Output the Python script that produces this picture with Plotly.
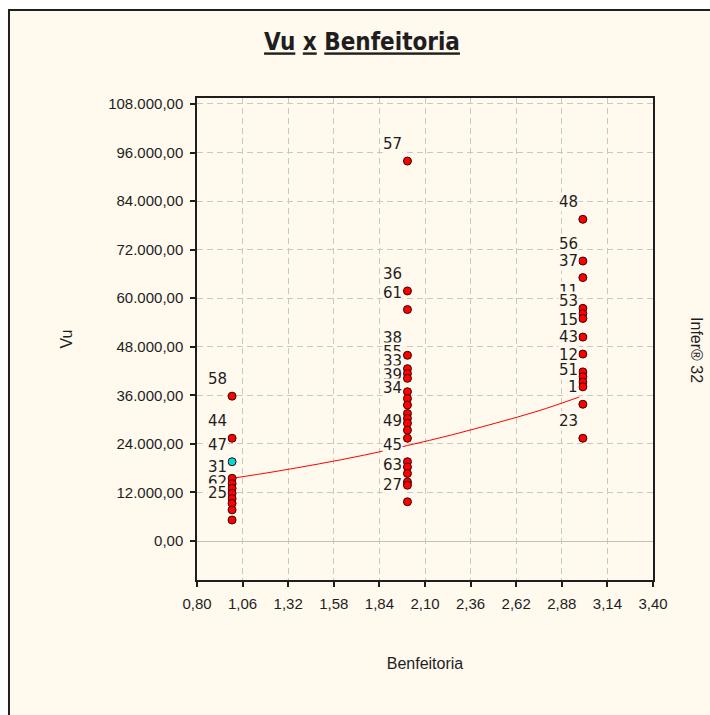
import plotly.graph_objects as go

FUNDO = "#FFF9EE"
TEXTO = "#1e1e1e"

# pontos (Benfeitoria, Vu), rótulo de cada ponto e destaque (1 = ponto ciano)
benfeitoria = [
    1, 1, 1, 1, 1, 1, 1, 1, 1, 1, 1,
    2, 2, 2, 2, 2, 2, 2, 2, 2, 2, 2, 2, 2, 2, 2, 2, 2, 2, 2, 2, 2,
    3, 3, 3, 3, 3, 3, 3, 3, 3, 3, 3, 3, 3, 3,
]
vu = [
    35800, 25400, 19600, 15500, 14200, 13000, 11800, 10500, 9300, 7700, 5200,
    93900, 61800, 57200, 45900, 42600, 41400, 40200, 36900, 35200, 33600, 31500,
    30300, 29100, 27400, 25400, 19600, 18300, 16700, 14600, 13800, 9700,
    79500, 69200, 65100, 57500, 56200, 55000, 50400, 46200, 41800, 40600, 39300,
    38100, 33800, 25400,
]
rotulos = [
    "58", "44", "47", "", "31", "", "", "62", "", "25", "",
    "57", "36", "61", "38", "55", "", "33", "39", "", "34", "",
    "", "", "", "49", "45", "", "", "63", "", "27",
    "48", "56", "37", "11", "", "53", "15", "43", "12", "", "",
    "51", "1", "23",
]
destaque = [
    0, 0, 1, 0, 0, 0, 0, 0, 0, 0, 0,
    0, 0, 0, 0, 0, 0, 0, 0, 0, 0, 0, 0, 0, 0, 0, 0, 0, 0, 0, 0, 0,
    0, 0, 0, 0, 0, 0, 0, 0, 0, 0, 0, 0, 0, 0,
]

# curva de regressão
curva_x = [1.0, 1.25, 1.5, 1.75, 2.0, 2.25, 2.5, 2.75, 2.98]
curva_y = [15500, 17200, 19100, 21200, 23600, 26200, 29100, 32200, 35600]

cores = ["#00DCDC" if d else "#FF0000" for d in destaque]

fig = go.Figure()
fig.add_trace(go.Scatter(
    x=curva_x, y=curva_y, mode="lines",
    line=dict(color="#FF0000", width=1, shape="spline"),
    hoverinfo="skip",
))
fig.add_trace(go.Scatter(
    x=benfeitoria, y=vu, mode="markers", text=rotulos,
    marker=dict(size=8, color=cores, line=dict(color="#3a0000", width=1)),
    cliponaxis=False,
))

# rótulos com fundo opaco, de cima para baixo (o de baixo cobre o de cima)
for bx, v, r in zip(benfeitoria, vu, rotulos):
    if not r:
        continue
    fig.add_annotation(
        x=bx, y=v, text=r, showarrow=False,
        xanchor="right", yanchor="middle", xshift=-4, yshift=17,
        bgcolor=FUNDO, borderpad=0,
        font=dict(family="DejaVu Sans, sans-serif", size=15, color=TEXTO),
    )

fig.add_annotation(
    text="Infer® 32", xref="paper", yref="paper", x=1.0965, y=0.477,
    xanchor="center", yanchor="middle",
    showarrow=False, textangle=90,
    font=dict(family="Liberation Sans, Arial, sans-serif", size=16, color=TEXTO),
)

# moldura da janela
fig.add_shape(
    type="rect", xref="paper", yref="paper",
    x0=-0.4123, x1=1.6, y0=-0.6, y1=1.1826,
    fillcolor=FUNDO, line=dict(color="#202020", width=2), layer="below",
)

eixo = dict(
    showgrid=True, gridcolor="#C8C8C8", gridwidth=1, griddash="6px,4px",
    ticks="outside", ticklen=5, tickwidth=1.5, tickcolor=TEXTO,
    showline=True, linecolor=TEXTO, linewidth=1.5, mirror=True,
    tickfont=dict(family="Liberation Sans, Arial, sans-serif", size=15, color=TEXTO),
    ticklabelstandoff=4,
    automargin=False,
)

fig.update_layout(
    width=710, height=715,
    margin=dict(l=197, r=57, t=98, b=135, autoexpand=False),
    paper_bgcolor="white", plot_bgcolor=FUNDO,
    separators=",.",
    showlegend=False,
    title=dict(
        text="<b><u>Vu</u> <u>x</u> <u>Benfeitoria</u></b>",
        x=362 / 710, xref="container", xanchor="center",
        y=1 - 42 / 715, yref="container", yanchor="middle",
        font=dict(family="Liberation Sans Narrow, DejaVu Sans Condensed, Arial Narrow, sans-serif",
                  size=24, color=TEXTO),
    ),
    xaxis=dict(
        eixo, range=[0.8, 3.4], tick0=0.8, dtick=0.26, tickformat=".2f",
        zeroline=False,
        title=dict(text="Benfeitoria", standoff=47,
                   font=dict(family="Liberation Sans, Arial, sans-serif", size=16, color=TEXTO)),
    ),
    yaxis=dict(
        eixo, range=[-9630, 109480], tick0=0, dtick=12000, tickformat=",.2f",
        zeroline=True, zerolinecolor="#C0C0C0", zerolinewidth=1,
        title=dict(text="Vu", standoff=32,
                   font=dict(family="Liberation Sans, Arial, sans-serif", size=16, color=TEXTO)),
    ),
)

# sem a margem padrão da página, a figura ocupa a janela inteira
fig.write_html(
    "out.html",
    config={"displayModeBar": False},
    post_script="document.body.style.margin='0';document.body.style.overflow='hidden';",
)
